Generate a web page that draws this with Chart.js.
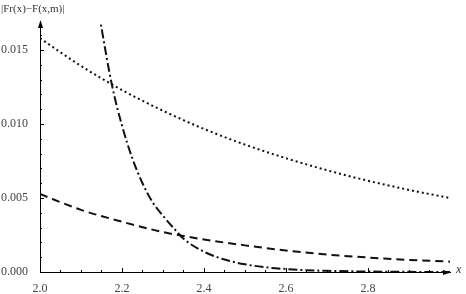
<!DOCTYPE html>
<html>
<head>
<meta charset="utf-8">
<script src="https://cdn.jsdelivr.net/npm/chart.js@4.4.1/dist/chart.umd.min.js"></script>
<style>
  html, body { margin: 0; padding: 0; background: #fff; }
  #wrap { width: 466px; height: 294px; }
</style>
</head>
<body>
<div id="wrap"><canvas id="c"></canvas></div>
<script>
// valores
const dottedX = [2.0, 2.1, 2.2, 2.3, 2.4, 2.5, 2.6, 2.7, 2.8, 2.9, 3.0];
const dottedY = [0.0158, 0.01393, 0.0123, 0.0109, 0.00967, 0.00861, 0.00769, 0.00688, 0.00617, 0.00555, 0.005];

const dashedX = [2.0, 2.1, 2.2, 2.3, 2.4, 2.5, 2.6, 2.7, 2.8, 2.9, 3.0];
const dashedY = [0.00527, 0.0042, 0.0034, 0.0027, 0.0022, 0.0018, 0.00145, 0.00118, 0.00098, 0.00082, 0.0007];

const dashDotX = [2.13, 2.15, 2.175, 2.2, 2.225, 2.25, 2.275, 2.3, 2.325, 2.35, 2.4, 2.45, 2.5, 2.55, 2.6, 2.65, 2.7, 2.8, 2.9, 3.0];
const dashDotY = [0.0198, 0.0165, 0.0127, 0.0099, 0.0077, 0.0060, 0.0047, 0.0038, 0.0030, 0.00225, 0.00137, 0.00084, 0.00052, 0.00032, 0.0002, 0.00012, 0.00008, 0.00003, 0.00001, 0.000005];

const xTicks = [2.0, 2.2, 2.4, 2.6, 2.8];
const yTicks = [0, 0.005, 0.010, 0.015];

const toPoints = (xs, ys) => xs.map((x, i) => ({ x: x, y: ys[i] }));

// ejes estilo Mathematica: marcas hacia dentro, flechas y etiquetas
const axesPlugin = {
    id: 'axesPlugin',
    afterDraw(chart) {
        const ctx = chart.ctx;
        const xs = chart.scales.x;
        const ys = chart.scales.y;
        const area = chart.chartArea;
        const x0 = xs.getPixelForValue(2.0);
        const y0 = ys.getPixelForValue(0);
        ctx.save();
        ctx.strokeStyle = '#000';
        ctx.lineWidth = 1;

        // marcas del eje x
        for (let v = 2.0; v < 2.999; v += 0.05) {
            const px = Math.round(xs.getPixelForValue(v)) + 0.5;
            const major = Math.abs(v * 5 - Math.round(v * 5)) < 1e-6;
            ctx.beginPath();
            ctx.moveTo(px, y0);
            ctx.lineTo(px, y0 - (major ? 4 : 2));
            ctx.stroke();
        }
        // marcas del eje y
        for (let v = 0; v < 0.0168; v += 0.001) {
            const py = Math.round(ys.getPixelForValue(v)) + 0.5;
            const major = Math.abs(v / 0.005 - Math.round(v / 0.005)) < 1e-6;
            ctx.beginPath();
            ctx.moveTo(x0, py);
            ctx.lineTo(x0 + (major ? 4 : 2), py);
            ctx.stroke();
        }

        // flechas
        ctx.fillStyle = '#000';
        ctx.beginPath();
        ctx.moveTo(x0 + 0.5, area.top - 2);
        ctx.lineTo(x0 - 2, area.top + 6);
        ctx.lineTo(x0 + 3, area.top + 6);
        ctx.closePath();
        ctx.fill();
        ctx.beginPath();
        ctx.moveTo(area.right + 1, y0 + 0.5);
        ctx.lineTo(area.right - 7, y0 - 2);
        ctx.lineTo(area.right - 7, y0 + 3);
        ctx.closePath();
        ctx.fill();

        // etiquetas de ejes
        ctx.fillStyle = '#333';
        ctx.textBaseline = 'middle';
        ctx.font = '11px "Liberation Serif"';
        ctx.textAlign = 'left';
        ctx.fillText('|Fr(x)\u2212F(x,m)|', 1, 9);
        ctx.font = 'italic 12px "Liberation Serif"';
        ctx.fillText('x', area.right + 6, y0 - 2);
        ctx.restore();
    }
};

new Chart(document.getElementById('c'), {
    type: 'scatter',
    data: {
        datasets: [
            {
                data: toPoints(dottedX, dottedY),
                showLine: true,
                borderColor: '#111',
                borderWidth: 2,
                borderDash: [2, 3],
                pointRadius: 0,
                cubicInterpolationMode: 'monotone'
            },
            {
                data: toPoints(dashedX, dashedY),
                showLine: true,
                borderColor: '#111',
                borderWidth: 2,
                borderDash: [8, 5],
                pointRadius: 0,
                cubicInterpolationMode: 'monotone'
            },
            {
                data: toPoints(dashDotX, dashDotY),
                showLine: true,
                borderColor: '#111',
                borderWidth: 2,
                borderDash: [9, 3, 2, 3],
                pointRadius: 0,
                cubicInterpolationMode: 'monotone'
            }
        ]
    },
    options: {
        responsive: true,
        maintainAspectRatio: false,
        animation: false,
        layout: { padding: { top: 22, right: 16, left: 0, bottom: 0 } },
        plugins: {
            legend: { display: false },
            tooltip: { enabled: false }
        },
        scales: {
            x: {
                type: 'linear',
                min: 2.0,
                max: 3.0,
                grid: { display: false },
                border: { display: true, color: '#000', width: 1 },
                afterBuildTicks: s => { s.ticks = xTicks.map(v => ({ value: v })); },
                afterFit: s => { s.height = 22; },
                ticks: {
                    color: '#444',
                    padding: 2,
                    maxRotation: 0,
                    font: { family: 'Liberation Serif', size: 12 },
                    callback: v => Number(v).toFixed(1)
                }
            },
            y: {
                type: 'linear',
                min: 0,
                max: 0.0169,
                grid: { display: false },
                border: { display: true, color: '#000', width: 1 },
                afterBuildTicks: s => { s.ticks = yTicks.map(v => ({ value: v })); },
                afterFit: s => { s.width = 40; },
                ticks: {
                    color: '#444',
                    padding: 4,
                    font: { family: 'Liberation Serif', size: 12 },
                    callback: v => Number(v).toFixed(3)
                }
            }
        }
    },
    plugins: [axesPlugin]
});
</script>
</body>
</html>
